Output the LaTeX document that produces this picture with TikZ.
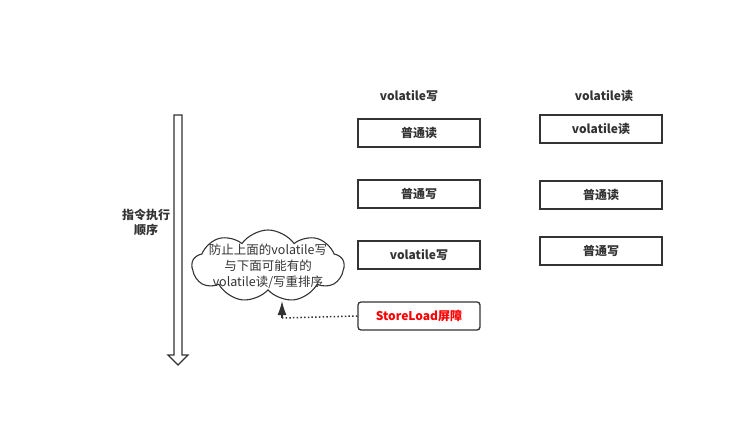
\documentclass[tikz,border=0pt]{standalone}
\usepackage{fontspec}
\setmainfont{Noto Sans CJK SC}
\usetikzlibrary{arrows,arrows.meta,shapes.symbols,positioning}
\definecolor{ink}{HTML}{333333}

\begin{document}
\begin{tikzpicture}[x=1pt,y=-1pt,>=stealth',node distance=31.7pt,
  every node/.style={text=ink,font=\fontsize{12}{15}\selectfont\bfseries}]
\useasboundingbox (0,0) rectangle (746,427);

% block styles
\tikzstyle{block} = [rectangle, draw=ink, line width=1.3pt,
    minimum width=122pt, minimum height=28pt, inner sep=0pt]
\tikzstyle{barrier} = [block, rounded corners=3pt, text=red]
\tikzstyle{note} = [cloud, draw=ink, line width=1.1pt, cloud puffs=9, cloud puff arc=110,
    cloud ignores aspect, minimum width=152pt, minimum height=72pt, inner sep=0pt]
\tikzstyle{notetext} = [align=center, font=\fontsize{12.5}{16}\selectfont]

% volatile write column
\node[block]	(wread)		at (419,133)			{普通读};
\node[block]	(wwrite)	[below=of wread]		{普通写};
\node[block]	(vwrite)	[below=of wwrite]		{volatile写};
\node[barrier]	(barrier)	[below=of vwrite]		{StoreLoad屏障};
\node		(whead)		at (409,96)			{volatile写};

% volatile read column
\node[block]	(vread)		at (601,129)			{volatile读};
\node[block]	(rread)		[below=36.7pt of vread]		{普通读};
\node[block]	(rwrite)	[below=26.7pt of rread]		{普通写};
\node		(rhead)		at (604,96)			{volatile读};

% order arrow
\draw[ink, line width=1.2pt, line join=miter]
	(174,115) -- (182,115) -- (182,355) -- (188,355) -- (178,365)
	-- (168,355) -- (174,355) -- cycle;
\node[align=center] (order) at (146,222) {指令执行\\顺序};

% note
\node[note] (why) at (268,266) {};
\node[notetext] (whytext) at (why.center) {防止上面的volatile写\\与下面可能有的\\volatile读/写重排序};
\coordinate (bend) at (282,318);
\coordinate (tip) at (282,301);
\draw[ink, dash pattern=on 1.5pt off 2.2pt, line width=1.5pt] (barrier.west) -- (bend);
\draw[ink, line width=1.3pt, -{Latex[length=14pt,width=9pt]}] (bend) -- (tip);

\end{tikzpicture}
\end{document}
